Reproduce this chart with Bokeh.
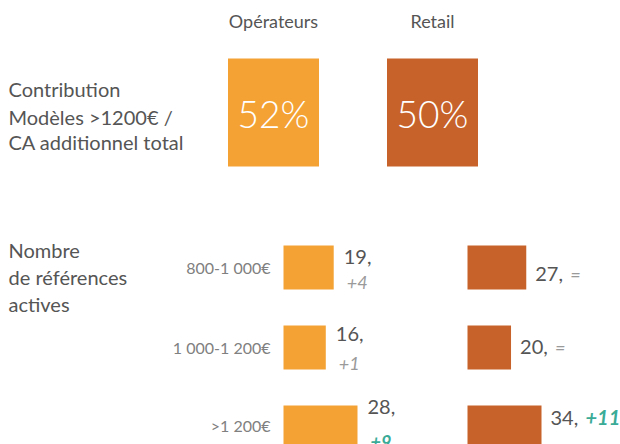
from bokeh.plotting import figure
from bokeh.models import Range1d, ColumnDataSource
from bokeh.core.properties import value
from bokeh.embed import file_html
from bokeh.resources import INLINE

# ---- data ----
channels = ["Opérateurs", "Retail"]
contribution = ["52%", "50%"]
segments = ["800-1 000€", "1 000-1 200€", ">1 200€"]
op_counts = [19, 16, 28]
op_deltas = ["+4", "+1", "+9"]
re_counts = [27, 20, 34]
re_deltas = ["=", "=", "+11"]
label_top = ["Contribution", "Modèles >1200€ /", "CA additionnel total"]
label_bottom = ["Nombre", "de références", "actives"]

# ---- style ----
FONT = value("Lato")
C_OP = "#F4A234"
C_RE = "#C7622B"
C_TEXT = "#555555"
C_GRAY = "#9a9a9a"
C_TEAL = "#3AAB97"

def delta_color(d):
    return C_TEAL if d != "=" and int(d.replace("+", "")) >= 5 else C_GRAY

def delta_style(d):
    return "bold italic" if delta_color(d) == C_TEAL else "italic"

# ---- layout (screen-pixel frame) ----
W, H = 620, 444
row_y = [267, 347, 427]
bar_h = 44
op_x0, re_x0, bar_px_max = 283, 467, 74
col_x = [273, 432]

p = figure(width=W, height=H, x_range=Range1d(0, W), y_range=Range1d(H, 0),
           output_backend="svg", toolbar_location=None, min_border=0)
p.axis.visible = False
p.grid.visible = False
p.outline_line_color = None
p.background_fill_color = "white"

k_op = bar_px_max / max(op_counts)
k_re = bar_px_max / max(re_counts)
p.extra_x_ranges = {
    "op": Range1d((0 - op_x0) / k_op, (W - op_x0) / k_op),
    "re": Range1d((0 - re_x0) / k_re, (W - re_x0) / k_re),
}

# headers
p.text(x=col_x, y=[20, 20], text=channels, text_align="center", text_baseline="alphabetic",
       text_font=FONT, text_font_size="18px", text_color=C_TEXT)

# contribution squares
p.rect(x=col_x, y=[112, 112], width=91, height=108, fill_color=[C_OP, C_RE], line_color=None)
p.text(x=col_x, y=[113, 113], text=contribution, text_align="center", text_baseline="middle",
       text_font=value("Lato Light, Lato"), text_font_size="37px", text_color="white")

# left labels
p.text(x=[8] * 3, y=[88, 116, 141], text=label_top, text_baseline="alphabetic",
       text_font=FONT, text_font_size="20px", text_color=C_TEXT)
p.text(x=[8] * 3, y=[249, 276, 303], text=label_bottom, text_baseline="alphabetic",
       text_font=FONT, text_font_size="20px", text_color=C_TEXT)

# segment labels
p.text(x=[270] * 3, y=[267, 347, 425], text=segments, text_align="right", text_baseline="middle",
       text_font=FONT, text_font_size="16px", text_color="#808080")

# bars
src_op = ColumnDataSource(dict(y=row_y, v=op_counts,
                               lab=[f"{v}," for v in op_counts],
                               d=op_deltas,
                               dc=[delta_color(d) for d in op_deltas],
                               ds=[delta_style(d) for d in op_deltas],
                               yb=[256, 333, 406], yd=[282, 363, 441]))
src_re = ColumnDataSource(dict(y=row_y, v=re_counts,
                               lab=[f"{v}," for v in re_counts],
                               d=re_deltas,
                               dc=[delta_color(d) for d in re_deltas],
                               ds=[delta_style(d) for d in re_deltas],
                               dsz=["18px" if d == "=" else "20px" for d in re_deltas],
                               yb=[273, 346, 417]))

p.hbar(y="y", left=0, right="v", height=bar_h, source=src_op, x_range_name="op",
       fill_color=C_OP, line_color=None)
p.hbar(y="y", left=0, right="v", height=bar_h, source=src_re, x_range_name="re",
       fill_color=C_RE, line_color=None)

# op value labels (two lines)
p.text(x="v", y="yb", text="lab", source=src_op, x_range_name="op", x_offset=10,
       text_baseline="alphabetic", text_font=FONT, text_font_size="20px", text_color=C_TEXT)
p.text(x="v", y="yd", text="d", source=src_op, x_range_name="op", x_offset=13,
       text_baseline="alphabetic", text_font=FONT, text_font_size="18px",
       text_color="dc", text_font_style="ds")

# retail value labels (inline)
p.text(x="v", y="yb", text="lab", source=src_re, x_range_name="re", x_offset=9,
       text_baseline="alphabetic", text_font=FONT, text_font_size="20px", text_color=C_TEXT)
p.text(x="v", y="yb", text="d", source=src_re, x_range_name="re", x_offset=44,
       text_baseline="alphabetic", text_font=FONT, text_font_size="dsz",
       text_color="dc", text_font_style="ds")

open("out.html", "w").write(file_html(p, INLINE))
